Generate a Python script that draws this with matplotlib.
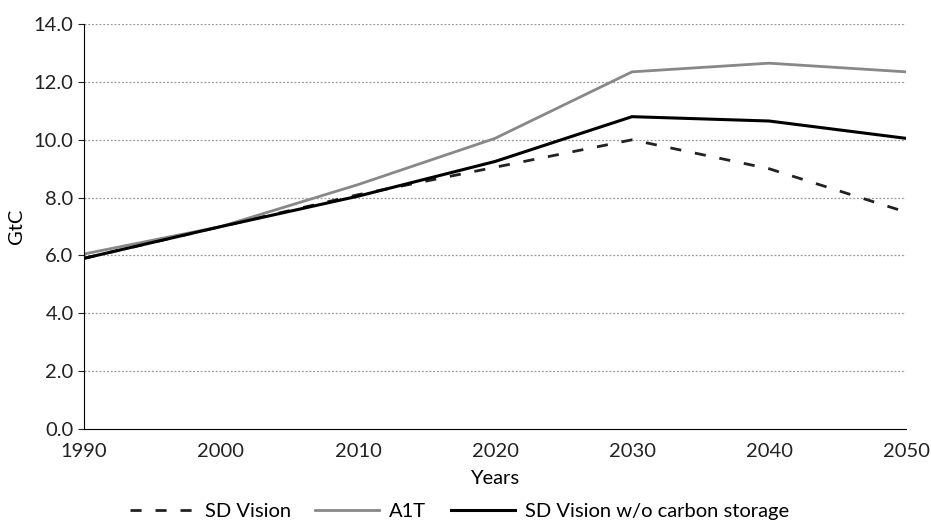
import numpy as np
import matplotlib.pyplot as plt

plt.rcParams['font.family'] = ['Lato', 'DejaVu Sans']

years = [1990, 2000, 2010, 2020, 2030, 2040, 2050]
sd_vision = [5.9, 7.0, 8.1, 9.05, 10.0, 9.0, 7.5]
a1t = [6.05, 7.0, 8.45, 10.05, 12.35, 12.65, 12.35]
sd_no_storage = [5.9, 7.0, 8.05, 9.25, 10.8, 10.65, 10.05]
yticks = np.arange(0, 14.1, 2)

fig = plt.figure(figsize=(9.31, 5.25), dpi=100)
ax = fig.add_axes([0.0902, 0.183, 0.883, 0.771])

ax.plot(years, sd_vision, color='#222222', lw=2, ls=(0, (4, 5)), label='SD Vision')
ax.plot(years, a1t, color='#888888', lw=2, label='A1T')
ax.plot(years, sd_no_storage, color='black', lw=2.2, label='SD Vision w/o carbon storage')

ax.set_xlim(1990, 2050)
ax.set_ylim(0, 14)
ax.set_xticks(years)
ax.set_yticks(yticks)
ax.set_yticklabels(['%.1f' % v for v in yticks])
for v in yticks[1:]:
    ax.axhline(v, color='#999999', lw=0.9, ls=(0, (1.5, 1.5)), zorder=0)

ax.spines['top'].set_visible(False)
ax.spines['right'].set_visible(False)
ax.tick_params(axis='x', length=0, labelsize=14.5, pad=10, colors='#222222')
ax.tick_params(axis='y', length=4, labelsize=14.5, colors='#222222')
ax.set_xlabel('Years', fontsize=14.5, labelpad=7)
ax.set_ylabel('GtC', fontsize=14.5, labelpad=6)

ax.legend(loc='center', bbox_to_anchor=(0.457, -0.203), ncol=3, frameon=False,
          fontsize=14.5, handlelength=3.2, columnspacing=1.2, handletextpad=0.5,
          borderpad=0.1)

fig.savefig('out.png')
